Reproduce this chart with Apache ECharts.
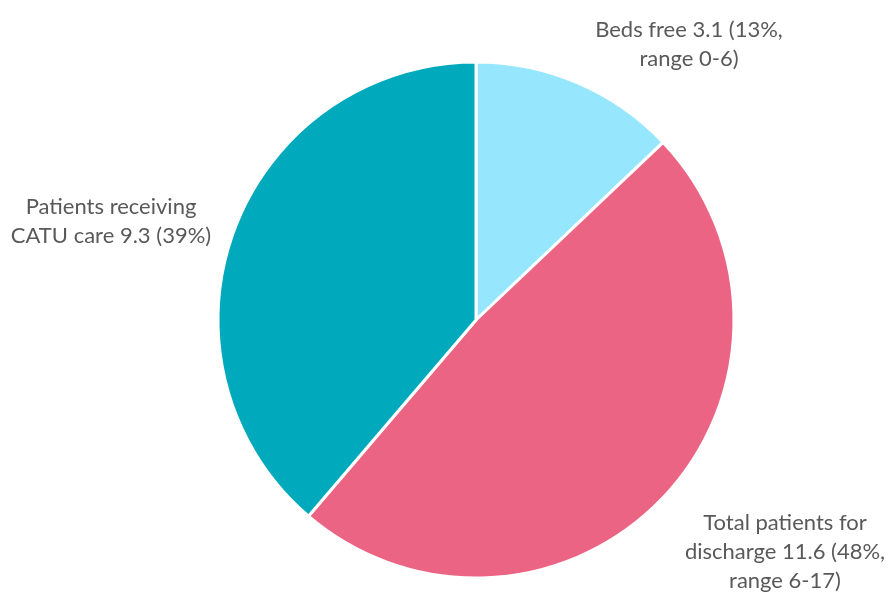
<!DOCTYPE html>
<html>
<head>
<meta charset="utf-8">
<script src="https://cdn.jsdelivr.net/npm/echarts@6/dist/echarts.min.js"></script>
<style>html,body{margin:0;padding:0;background:#fff}#c{width:888px;height:592px}</style>
</head>
<body>
<div id="c"></div>
<script>
const categories = ['Beds free', 'Total patients for discharge', 'Patients receiving CATU care'];
const values = [3.1, 11.6, 9.3];
const labelTexts = [
  'Beds free 3.1 (13%,\nrange 0-6)',
  'Total patients for\ndischarge 11.6 (48%,\nrange 6-17)',
  'Patients receiving\nCATU care 9.3 (39%)'
];
const colors = ['#96E7FD', '#EC6484', '#00A9BC'];
const labelPos = [[689, 44], [785, 552], [111, 221]];

const chart = echarts.init(document.getElementById('c'), null, {renderer: 'canvas'});
chart.setOption({
  animation: false,
  series: [{
    type: 'pie',
    center: [476, 320],
    radius: 258,
    startAngle: 90,
    clockwise: true,
    data: categories.map((n, i) => ({name: n, value: values[i], itemStyle: {color: colors[i]}})),
    itemStyle: {borderColor: '#fff', borderWidth: 3},
    label: {
      show: true,
      position: 'outside',
      formatter: p => labelTexts[p.dataIndex],
      fontFamily: 'Lato',
      fontSize: 22,
      lineHeight: 29,
      color: '#595959',
      align: 'center',
      overflow: 'none'
    },
    labelLine: {show: false},
    labelLayout: p => ({x: labelPos[p.dataIndex][0], y: labelPos[p.dataIndex][1], align: 'center', verticalAlign: 'middle'})
  }]
});
</script>
</body>
</html>
